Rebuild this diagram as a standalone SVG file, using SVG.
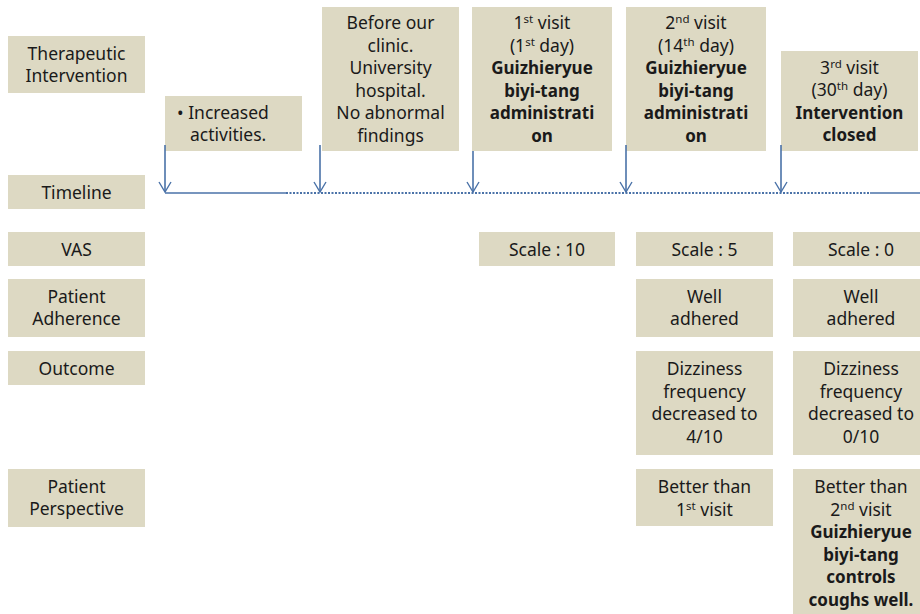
<svg xmlns="http://www.w3.org/2000/svg" width="920" height="614" viewBox="0 0 920 614">
<defs>
<style>
.box{fill:#ddd9c3;}
text{font-family:"Noto Sans","Open Sans","Liberation Sans",sans-serif;font-size:17.5px;fill:#1a1a1a;text-anchor:middle;}
.b{font-weight:bold;font-size:17px;}
.sup{font-size:11.5px;}
.ln{stroke:#4a72a8;stroke-width:1.6;fill:none;}
.dot{stroke:#4a72a8;stroke-width:2;stroke-dasharray:2 1.5;fill:none;}
</style>
<marker id="ah" viewBox="0 0 12 14" markerWidth="12" markerHeight="14" refX="11" refY="7" orient="auto" markerUnits="userSpaceOnUse">
<path d="M1,1 L11,7 L1,13" stroke="#4a72a8" stroke-width="1.4" fill="none"/>
</marker>
</defs>
<rect width="920" height="614" fill="#ffffff"/>

<g id="lbl-therapeutic"><rect class="box" x="8" y="36" width="137" height="57"/><text x="76.5" y="59.7">Therapeutic</text><text x="76.5" y="82.2">Intervention</text></g>
<g id="lbl-timeline"><rect class="box" x="8" y="175" width="137" height="34"/><text x="76.5" y="198.5">Timeline</text></g>
<g id="lbl-vas"><rect class="box" x="8" y="232" width="137" height="34"/><text x="76.5" y="255.5">VAS</text></g>
<g id="lbl-adherence"><rect class="box" x="8" y="279" width="137" height="58"/><text x="76.5" y="302.8">Patient</text><text x="76.5" y="325.3">Adherence</text></g>
<g id="lbl-outcome"><rect class="box" x="8" y="351" width="137" height="34"/><text x="76.5" y="374.5">Outcome</text></g>
<g id="lbl-perspective"><rect class="box" x="8" y="469" width="137" height="58"/><text x="76.5" y="492.8">Patient</text><text x="76.5" y="515.3">Perspective</text></g>

<g id="ev-increased"><rect class="box" x="165" y="96" width="137" height="55"/><text x="177" y="118.8" style="text-anchor:start">• Increased</text><text x="190" y="141.3" style="text-anchor:start">activities.</text></g>
<g id="ev-before"><rect class="box" x="322" y="7" width="137" height="144"/>
<text x="390.5" y="29.3">Before our</text><text x="390.5" y="51.8">clinic.</text><text x="390.5" y="74.3">University</text><text x="390.5" y="96.8">hospital.</text><text x="390.5" y="119.3">No abnormal</text><text x="390.5" y="141.8">findings</text></g>
<g id="ev-visit1"><rect class="box" x="472" y="7" width="140" height="144"/>
<text x="542" y="29.3">1<tspan class="sup" dy="-6">st</tspan><tspan dy="6"> visit</tspan></text>
<text x="542" y="51.8">(1<tspan class="sup" dy="-6">st</tspan><tspan dy="6"> day)</tspan></text>
<text x="542" y="74.3" class="b">Guizhieryue</text><text x="542" y="96.8" class="b">biyi-tang</text><text x="542" y="119.3" class="b">administrati</text><text x="542" y="141.8" class="b">on</text></g>
<g id="ev-visit2"><rect class="box" x="626" y="7" width="140" height="144"/>
<text x="696" y="29.3">2<tspan class="sup" dy="-6">nd</tspan><tspan dy="6"> visit</tspan></text>
<text x="696" y="51.8">(14<tspan class="sup" dy="-6">th</tspan><tspan dy="6"> day)</tspan></text>
<text x="696" y="74.3" class="b">Guizhieryue</text><text x="696" y="96.8" class="b">biyi-tang</text><text x="696" y="119.3" class="b">administrati</text><text x="696" y="141.8" class="b">on</text></g>
<g id="ev-visit3"><rect class="box" x="781" y="51" width="137" height="100"/>
<text x="849.5" y="73.8">3<tspan class="sup" dy="-6">rd</tspan><tspan dy="6"> visit</tspan></text>
<text x="849.5" y="96.3">(30<tspan class="sup" dy="-6">th</tspan><tspan dy="6"> day)</tspan></text>
<text x="849.5" y="118.8" class="b">Intervention</text><text x="849.5" y="141.3" class="b">closed</text></g>

<g id="vas-1"><rect class="box" x="479" y="232" width="136" height="34"/><text x="547" y="255.5">Scale : 10</text></g>
<g id="vas-2"><rect class="box" x="636" y="232" width="137" height="34"/><text x="704.5" y="255.5">Scale : 5</text></g>
<g id="vas-3"><rect class="box" x="793" y="232" width="137" height="34"/><text x="861" y="255.5">Scale : 0</text></g>
<g id="adh-2"><rect class="box" x="636" y="279" width="137" height="58"/><text x="704.5" y="302.8">Well</text><text x="704.5" y="325.3">adhered</text></g>
<g id="adh-3"><rect class="box" x="793" y="279" width="137" height="58"/><text x="861" y="302.8">Well</text><text x="861" y="325.3">adhered</text></g>
<g id="out-2"><rect class="box" x="636" y="351" width="137" height="104"/><text x="704.5" y="375.3">Dizziness</text><text x="704.5" y="397.8">frequency</text><text x="704.5" y="420.3">decreased to</text><text x="704.5" y="442.8">4/10</text></g>
<g id="out-3"><rect class="box" x="793" y="351" width="137" height="104"/><text x="861" y="375.3">Dizziness</text><text x="861" y="397.8">frequency</text><text x="861" y="420.3">decreased to</text><text x="861" y="442.8">0/10</text></g>
<g id="per-2"><rect class="box" x="636" y="469" width="137" height="57"/><text x="704.5" y="493.3">Better than</text><text x="704.5" y="515.8">1<tspan class="sup" dy="-6">st</tspan><tspan dy="6"> visit</tspan></text></g>
<g id="per-3"><rect class="box" x="793" y="469" width="137" height="150"/><text x="861" y="493.3">Better than</text><text x="861" y="515.8">2<tspan class="sup" dy="-6">nd</tspan><tspan dy="6"> visit</tspan></text>
<text x="861" y="538.3" class="b">Guizhieryue</text><text x="861" y="560.8" class="b">biyi-tang</text><text x="861" y="583.3" class="b">controls</text><text x="861" y="605.8" class="b">coughs well.</text></g>

<g id="connectors">
<path class="ln" d="M165,193 H286"/>
<path class="dot" d="M286,193 H870"/>
<path class="ln" d="M870,193 H920"/>
<path class="ln" d="M165,145 V192" marker-end="url(#ah)"/>
<path class="ln" d="M320,145 V192" marker-end="url(#ah)"/>
<path class="ln" d="M473,151 V192" marker-end="url(#ah)"/>
<path class="ln" d="M626,145 V192" marker-end="url(#ah)"/>
<path class="ln" d="M781,145 V192" marker-end="url(#ah)"/>
</g>
</svg>
